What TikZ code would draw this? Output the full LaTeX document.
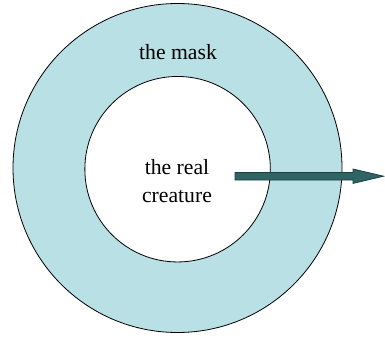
\documentclass[tikz,border=0pt]{standalone}
\usepackage{fontspec}
\setmainfont{Liberation Serif}
\definecolor{maskblue}{RGB}{185,224,228}
\definecolor{arrowteal}{RGB}{47,100,100}
\definecolor{arrowedge}{RGB}{30,62,62}
\begin{document}
\begin{tikzpicture}[x=1pt, y=-1pt,
    ring/.style={circle, draw=black, line width=0.8pt, inner sep=0pt, outer sep=0pt},
    label/.style={font=\fontsize{21.7}{28}\selectfont, align=center, inner sep=0pt}]
    
    % frame
    \useasboundingbox (0,0) rectangle (385,337);
    
    % the two circles
    \node[ring, fill=maskblue, minimum size=329pt] (mask) at (177.5,168) {};
    \node[ring, fill=white, minimum size=185.5pt] (creature) at (177.6,169.2) {};
    
    % texts
    \node[label, anchor=base] (masktext) at (178,59.5) {the mask};
    \node[label, anchor=base] (creaturetext) at (177,202) {the real\\creature};
    
    % arrow
    \draw[fill=arrowteal, draw=arrowedge, line width=0.8pt, line join=miter]
        (235,172.5) -- (353,172.5) -- (353,169) -- (383.5,176.2) -- (353,183.4)
        -- (353,180) -- (235,180) -- cycle;
    
\end{tikzpicture}
\end{document}
